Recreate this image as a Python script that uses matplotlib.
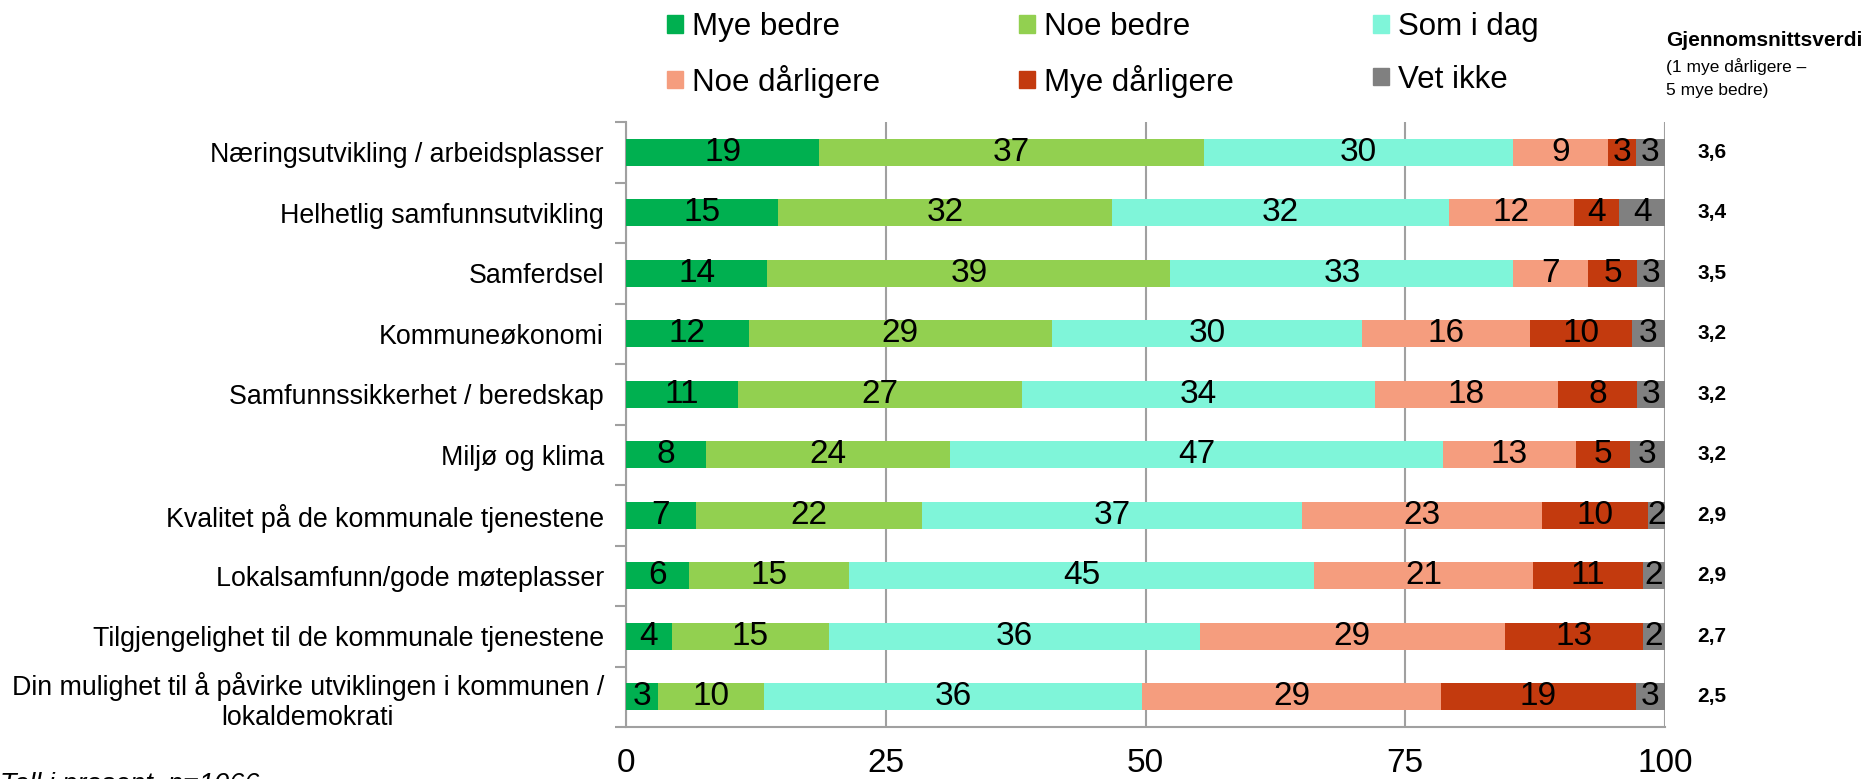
import numpy as np
import matplotlib
matplotlib.use("Agg")
import matplotlib.pyplot as plt
from matplotlib.patches import Patch

plt.rcParams["font.family"] = ["Liberation Sans", "DejaVu Sans"]

# Data (percent shares)
categories = [
    "Næringsutvikling / arbeidsplasser",
    "Helhetlig samfunnsutvikling",
    "Samferdsel",
    "Kommuneøkonomi",
    "Samfunnssikkerhet / beredskap",
    "Miljø og klima",
    "Kvalitet på de kommunale tjenestene",
    "Lokalsamfunn/gode møteplasser",
    "Tilgjengelighet til de kommunale tjenestene",
    "Din mulighet til å påvirke utviklingen i kommunen /\nlokaldemokrati",
]
series_names = ["Mye bedre", "Noe bedre", "Som i dag", "Noe dårligere", "Mye dårligere", "Vet ikke"]
mye_bedre = [18.6, 14.6, 13.6, 11.8, 10.8, 7.7, 6.7, 6.1, 4.4, 3.1]
noe_bedre = [37.0, 32.2, 38.8, 29.2, 27.3, 23.5, 21.8, 15.4, 15.1, 10.2]
som_i_dag = [29.8, 32.4, 33.0, 29.8, 34.0, 47.4, 36.6, 44.7, 35.7, 36.4]
noe_darligere = [9.1, 12.0, 7.2, 16.2, 17.6, 12.8, 23.1, 21.1, 29.4, 28.7]
mye_darligere = [2.7, 4.4, 4.7, 9.8, 7.6, 5.2, 10.2, 10.6, 13.3, 18.8]
vet_ikke = [2.8, 4.4, 2.7, 3.2, 2.7, 3.4, 1.6, 2.1, 2.1, 2.8]
mean_values = ["3,6", "3,4", "3,5", "3,2", "3,2", "3,2", "2,9", "2,9", "2,7", "2,5"]
x_ticks = [0, 25, 50, 75, 100]

colors = ["#00B050", "#92D050", "#7FF5D9", "#F59D7E", "#C33A0E", "#808080"]

series = [mye_bedre, noe_bedre, som_i_dag, noe_darligere, mye_darligere, vet_ikke]

fig = plt.figure(figsize=(18.70, 7.79), dpi=100)
ax = fig.add_axes([626 / 1870, 1 - 727 / 779, (1665 - 626) / 1870, (727 - 122) / 779])

y = np.arange(len(categories))
left = np.zeros(len(categories))
for name, vals, col in zip(series_names, series, colors):
    vals = np.array(vals)
    ax.barh(y, vals, left=left, height=0.44, color=col, label=name, zorder=3)
    for yi, l, v in zip(y, left, vals):
        ax.text(l + v / 2, yi, f"{v:.0f}", ha="center", va="center",
                fontsize=24, color="black", zorder=4)
    left += vals

ax.set_xlim(0, 100)
ax.set_ylim(len(categories) - 0.5, -0.5)

ax.set_xticks(x_ticks)
ax.tick_params(axis="x", length=0, labelsize=24, pad=15)
ax.xaxis.grid(True, color="#A0A0A0", linewidth=1.5, zorder=0)

ax.set_yticks(y)
ax.set_yticklabels(categories, fontsize=19.3, multialignment="center")
ax.tick_params(axis="y", which="major", length=0, pad=16)
ax.set_yticks(np.arange(len(categories) + 1) - 0.5, minor=True)
ax.tick_params(axis="y", which="minor", length=8, width=1.5, color="#A0A0A0")

for s in ["top", "right"]:
    ax.spines[s].set_visible(False)
for s in ["left", "bottom"]:
    ax.spines[s].set_color("#A0A0A0")
    ax.spines[s].set_linewidth(1.5)

# Mean values column
for yi, m in zip(y, mean_values):
    ax.text(1.045, yi, m, transform=ax.get_yaxis_transform(), ha="center",
            va="center", fontsize=15, fontweight="bold")

fig.text(1666 / 1870, 1 - 40 / 779, "Gjennomsnittsverdi", fontsize=15,
         fontweight="bold", ha="left", va="center")
fig.text(1666 / 1870, 1 - 78 / 779, "(1 mye dårligere –\n5 mye bedre)", fontsize=12.5,
         ha="left", va="center", linespacing=1.7)

# Legend, arranged row-wise
handles = [Patch(color=c) for c in colors]
order = [0, 3, 1, 4, 2, 5]
fig.legend([handles[i] for i in order], [series_names[i] for i in order],
           ncol=3, loc="upper left", bbox_to_anchor=(667 / 1870, 1 - 12 / 779),
           frameon=False, fontsize=22.5, handlelength=0.5, handleheight=0.5,
           handletextpad=0.3, columnspacing=4.45, labelspacing=0.72,
           borderpad=0, borderaxespad=0)

fig.text(0.0, 1 - 772 / 779, "Tall i prosent, n=1066", fontsize=19.5,
         style="italic", ha="left", va="top")

fig.savefig("out.png", dpi=100)
